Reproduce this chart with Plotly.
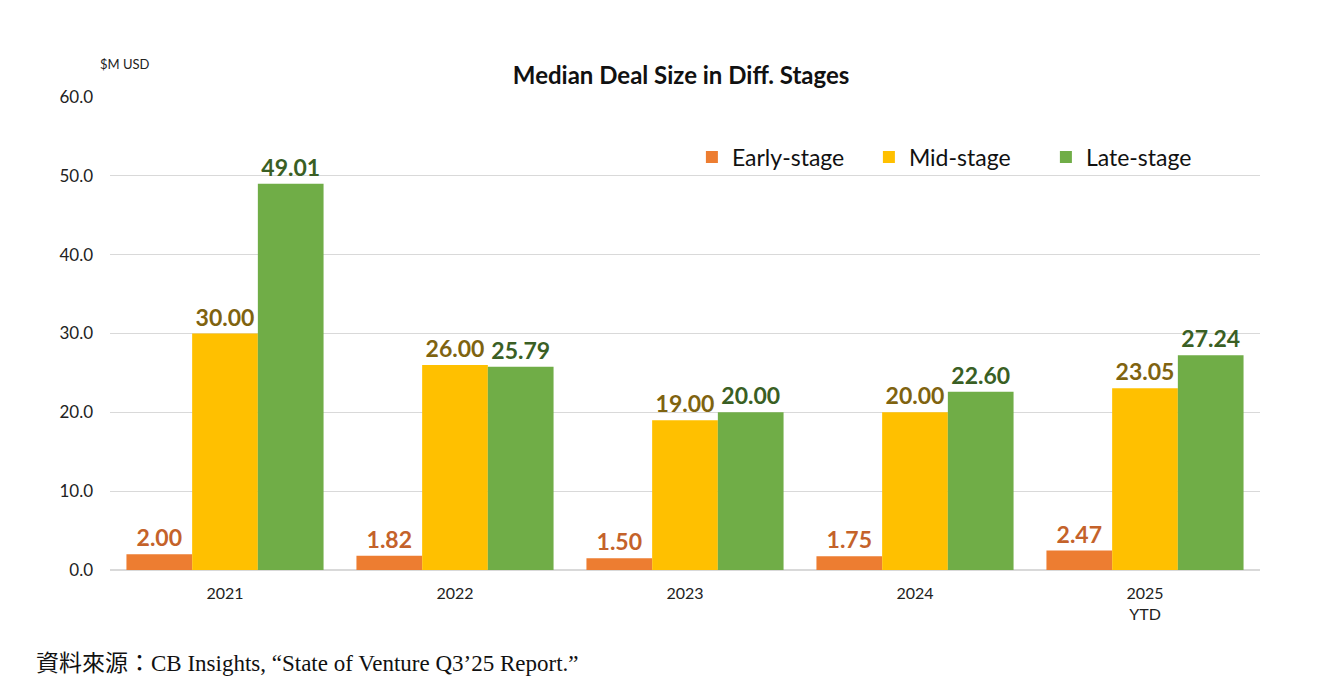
import plotly.graph_objects as go

# data
years = ['2021', '2022', '2023', '2024', '2025<br>YTD']
early = [2.00, 1.82, 1.50, 1.75, 2.47]
mid = [30.00, 26.00, 19.00, 20.00, 23.05]
late = [49.01, 25.79, 20.00, 22.60, 27.24]

series = [
    ('Early-stage', early, '#ED7D31', '#C4622A'),
    ('Mid-stage', mid, '#FFC000', '#7F6310'),
    ('Late-stage', late, '#70AD47', '#3A5F24'),
]

fig = go.Figure()

for name, vals, col, txtcol in series:
    fig.add_trace(go.Bar(
        x=years,
        y=vals,
        name=name,
        marker=dict(color=col, line=dict(width=0)),
        text=[f'{v:.2f}' for v in vals],
        textposition='outside',
        outsidetextfont=dict(family='Lato, sans-serif', size=23, color=txtcol, weight='bold'),
        cliponaxis=False,
    ))

# page body adds 8px offset, so the figure is a bit smaller than the window
fig.update_layout(
    width=1307,
    height=676,
    paper_bgcolor='white',
    plot_bgcolor='white',
    margin=dict(l=102, r=55, t=89, b=114),
    barmode='group',
    bargap=0.143,
    bargroupgap=0,
    font=dict(family='Lato, sans-serif', color='#222'),
    title=dict(
        text='<b>Median Deal Size in Diff. Stages</b>',
        x=0.515, xanchor='center',
        y=0.9, yanchor='middle',
        font=dict(size=24, color='#111'),
    ),
    legend=dict(
        orientation='h',
        x=0.506, y=0.873,
        xanchor='left', yanchor='middle',
        font=dict(size=23, color='#111'),
        traceorder='normal',
        itemwidth=30,
        entrywidth=132,
        bgcolor='rgba(0,0,0,0)',
    ),
    showlegend=True,
)

fig.update_yaxes(
    range=[0, 60],
    dtick=10,
    tickformat='.1f',
    showgrid=True,
    gridcolor='#D9D9D9',
    gridwidth=1,
    zeroline=True,
    zerolinecolor='#D9D9D9',
    zerolinewidth=2,
    showline=False,
    ticks='',
    ticklabelstandoff=16,
    tickfont=dict(size=17, color='#222'),
)

fig.update_xaxes(
    showline=False,
    ticks='',
    tickfont=dict(size=16, color='#222'),
    ticklabelstandoff=12,
)

fig.add_annotation(
    text='$M USD', xref='paper', yref='paper',
    x=-0.0104, y=1.07, xanchor='left', yanchor='middle',
    showarrow=False, font=dict(size=13, color='#222'),
)

fig.add_annotation(
    text='<span style="font-family:\'Noto Sans CJK TC\'">資料來源：</span>CB Insights, “State of Venture Q3’25 Report.”',
    xref='paper', yref='paper',
    x=-0.066, y=-0.192, xanchor='left', yanchor='middle',
    showarrow=False,
    font=dict(family='Liberation Serif, serif', size=23, color='#111'),
)

fig.write_html("out.html")
